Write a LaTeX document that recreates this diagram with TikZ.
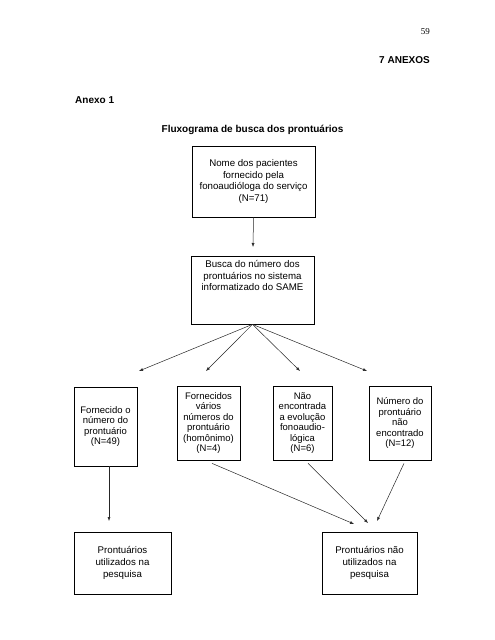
\documentclass[tikz,border=0pt]{standalone}
\usepackage{fontspec}
\setmainfont{Liberation Sans}
\newfontfamily\timesfont{Liberation Serif}
\usetikzlibrary{arrows.meta}
\usetikzlibrary{positioning}

\begin{document}
\begin{tikzpicture}[x=1pt,y=-1pt,
      box/.style={draw,line width=0.7pt,inner sep=0pt,align=center,
        font=\fontsize{9.7}{11.7}\selectfont},
      smallbox/.style={box,minimum width=62pt,minimum height=74pt,
        font=\fontsize{9.5}{10.5}\selectfont},
      txt/.style={inner sep=0pt,align=center,font=\fontsize{9.7}{11.7}\selectfont},
      head/.style={inner sep=0pt,font=\fontsize{10}{12}\selectfont\bfseries},
      seta/.style={-{Latex[length=4pt,width=3pt]},line width=0.5pt,black!85}]

      \useasboundingbox (0,0) rectangle (495,640);

      % cabecalho
      \node[inner sep=0pt,font=\fontsize{9}{11}\timesfont,anchor=east] (pagina) at (430,32) {59};
      \node[head,anchor=east] (anexos) at (430,60) {7 ANEXOS};
      \node[head,anchor=west] (anexo) at (75,100) {Anexo 1};
      \node[head] (titulo) at (252.5,130) {Fluxograma de busca dos prontuários};

      % caixas
      \node[box,minimum width=123pt,minimum height=71pt] (nome) at (253.5,181.5)
        {Nome dos pacientes\\ fornecido pela\\ fonoaudióloga do serviço\\ (N=71)};
      \node[box,minimum width=123pt,minimum height=68pt] (busca) at (252.5,290) {};
      \node[txt,anchor=north] (buscatxt) at ([yshift=-4.5pt]busca.north)
        {Busca do número dos\\ prontuários no sistema\\ informatizado do SAME};

      \node[smallbox,minimum width=63pt,minimum height=79pt] (fornecido) at (105.5,426.5)
        {Fornecido o\\ número do\\ prontuário\\ (N=49)};
      \node[smallbox,minimum width=63pt] (varios) at (208.5,423)
        {Fornecidos\\ vários\\ números do\\ prontuário\\ (homônimo)\\ (N=4)};
      \node[smallbox,minimum width=59pt] (semevol) at (302.5,423)
        {Não\\ encontrada\\ a evolução\\ fonoaudio-\\ lógica\\ (N=6)};
      \node[smallbox] (naoencontrado) at (400,423)
        {Número do\\ prontuário\\ não\\ encontrado\\ (N=12)};

      \node[box,minimum width=97pt,minimum height=62pt] (utilizados) at (122.5,563)
        {Prontuários\\ utilizados na\\ pesquisa};
      \node[box,minimum width=95pt,minimum height=62pt] (naoutilizados) at (369.5,563)
        {Prontuários não\\ utilizados na\\ pesquisa};

      % pontas das setas
      \coordinate (pb) at (253,247);
      \coordinate (p1) at (139,371);
      \coordinate (p2) at (206,371);
      \coordinate (p3) at (300,371);
      \coordinate (p4) at (367,371);
      \coordinate (pu) at (109,521);
      \coordinate (q1) at (354,524);
      \coordinate (q2) at (368,523);
      \coordinate (q3) at (377,521);

      % setas
      \draw[seta] (nome.south) -- (pb);
      \foreach \p in {p1,p2,p3,p4}
        \draw[seta] (busca.south) -- (\p);
      \draw[seta] ([xshift=3.5pt]fornecido.south) -- (pu);
      \draw[seta] ([xshift=3.5pt,yshift=-3pt]varios.south) -- (q1);
      \draw[seta] ([xshift=5.5pt,yshift=-3pt]semevol.south) -- (q2);
      \draw[seta] ([xshift=4pt,yshift=-3pt]naoencontrado.south) -- (q3);
    \end{tikzpicture}
\end{document}
